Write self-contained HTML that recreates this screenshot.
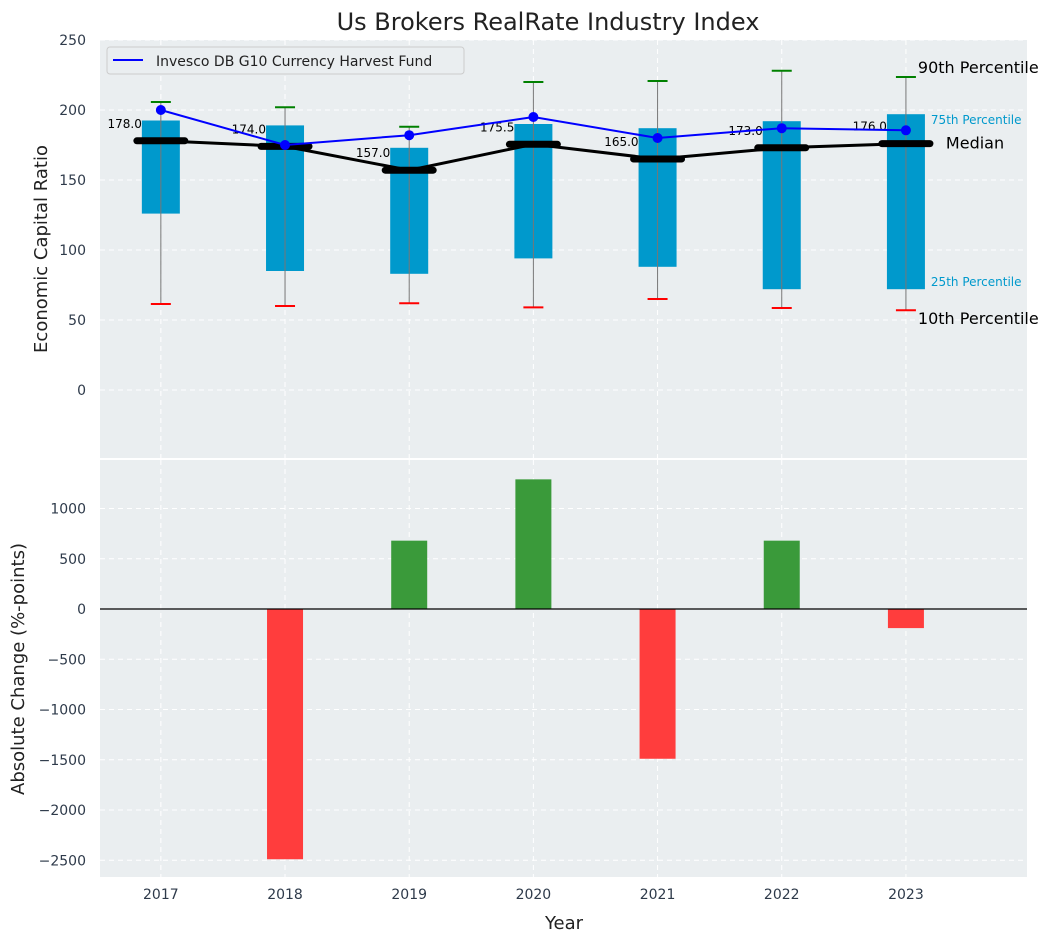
<!DOCTYPE html>
<html><head><meta charset="utf-8"><style>
body{margin:0;background:#fff;}
svg{font-family:"DejaVu Sans","Liberation Sans",sans-serif;}
</style></head><body>
<svg id="c" width="1053" height="942" xmlns="http://www.w3.org/2000/svg"></svg>
<script>
const years=[2017,2018,2019,2020,2021,2022,2023];
const p10=[61.4,60,62,59,65,58.6,57];
const p25=[126,85,83,94,88,72,72];
const medians=[178,174,157,175.5,165,173,176];
const p75=[192.5,189,173,190,187,192,197];
const p90=[205.7,202,188,220,220.7,228,223.6];
const fund=[200,175,182,195,180,187,185.5];
const changes=[0,-2490,680,1290,-1490,680,-190];
const topTicks=[0,50,100,150,200,250];
const botTicks=[-2500,-2000,-1500,-1000,-500,0,500,1000];

const NS="http://www.w3.org/2000/svg";
const svg=document.getElementById('c');
function el(tag,attrs,parent){const e=document.createElementNS(NS,tag);for(const k in attrs)e.setAttribute(k,attrs[k]);(parent||svg).appendChild(e);return e;}
const L=100,R=1027;
const x=v=>L+(v-2016.51)/(2023.975-2016.51)*(R-L);
const yT=v=>390-v*1.4;
const yB=v=>609-v*0.1005;

let t=el('text',{x:548,y:30,'font-size':24,'text-anchor':'middle',fill:'#222'});
t.textContent='Us Brokers RealRate Industry Index';

let p=el('rect',{x:L,y:40,width:R-L,height:418,fill:'#eaeef0'});

p=el('rect',{x:L,y:460,width:R-L,height:417,fill:'#eaeef0'});


years.forEach(yr=>{
  el('line',{x1:x(yr),x2:x(yr),y1:40,y2:458,stroke:'#fff','stroke-dasharray':'5,4','stroke-width':1});
  el('line',{x1:x(yr),x2:x(yr),y1:460,y2:877,stroke:'#fff','stroke-dasharray':'5,4','stroke-width':1});
  const tx=el('text',{x:x(yr),y:899,'font-size':14,'text-anchor':'middle',fill:'#2e3a4a'});
  tx.textContent=yr;
});
topTicks.forEach(v=>{
  el('line',{x1:L,x2:R,y1:yT(v),y2:yT(v),stroke:'#fff','stroke-dasharray':'5,4'});
  const tx=el('text',{x:86,y:yT(v)+5,'font-size':14,'text-anchor':'end',fill:'#2e3a4a'});
  tx.textContent=v;
});
botTicks.forEach(v=>{
  el('line',{x1:L,x2:R,y1:yB(v),y2:yB(v),stroke:'#fff','stroke-dasharray':'5,4'});
  const tx=el('text',{x:86,y:yB(v)+5,'font-size':14,'text-anchor':'end',fill:'#2e3a4a'});
  tx.textContent=v<0?'\u2212'+(-v):v;
});

years.forEach((yr,i)=>{
  const cx=x(yr),bw=38;
  const b=el('rect',{x:cx-bw/2,y:yT(p75[i]),width:bw,height:yT(p25[i])-yT(p75[i]),fill:'#0099cc'});
  
  el('line',{x1:cx,x2:cx,y1:yT(p10[i]),y2:yT(p90[i]),stroke:'#777','stroke-width':1});
  el('line',{x1:cx-10,x2:cx+10,y1:yT(p90[i]),y2:yT(p90[i]),stroke:'green','stroke-width':2});
  el('line',{x1:cx-10,x2:cx+10,y1:yT(p10[i]),y2:yT(p10[i]),stroke:'red','stroke-width':2});
});
let pl=el('polyline',{points:years.map((yr,i)=>x(yr)+','+yT(medians[i])).join(' '),fill:'none',stroke:'#000','stroke-width':3});

years.forEach((yr,i)=>{
  const m=el('line',{x1:x(yr)-24,x2:x(yr)+24,y1:yT(medians[i]),y2:yT(medians[i]),stroke:'#000','stroke-width':7,'stroke-linecap':'round'});
  
  const tx=el('text',{x:x(yr)-19,y:yT(medians[i])-13,'font-size':12,'text-anchor':'end',fill:'#000'});
  tx.textContent=medians[i].toFixed(1);
});
pl=el('polyline',{points:years.map((yr,i)=>x(yr)+','+yT(fund[i])).join(' '),fill:'none',stroke:'blue','stroke-width':2});

years.forEach((yr,i)=>{
  const c=el('circle',{cx:x(yr),cy:yT(fund[i]),r:5,fill:'blue'});
  
});
const ax=x(2023);
[['90th Percentile',ax+12,yT(p90[6])-4,16,'#000'],['75th Percentile',ax+25,yT(p75[6])+10,12,'#0099cc'],['Median',ax+40,yT(medians[6])+5,16,'#000'],['25th Percentile',ax+25,yT(p25[6])-3,12,'#0099cc'],['10th Percentile',ax+12,yT(p10[6])+14,16,'#000']].forEach(a=>{
  const tx=el('text',{x:a[1],y:a[2],'font-size':a[3],fill:a[4]});
  tx.textContent=a[0];
});
const lg=el('g',{});

el('rect',{x:107,y:47,width:357,height:27,rx:3,fill:'#eaeef0',stroke:'#ccc'},lg);
el('line',{x1:113,x2:143,y1:60,y2:60,stroke:'blue','stroke-width':2},lg);
const lt=el('text',{x:156,y:66,'font-size':14,fill:'#222'},lg);lt.textContent='Invesco DB G10 Currency Harvest Fund';

years.forEach((yr,i)=>{
  const v=changes[i];if(v===0)return;
  const b=el('rect',{x:x(yr)-18,y:Math.min(yB(v),yB(0)),width:36,height:Math.abs(yB(v)-yB(0)),fill:v>=0?'#3a9a3a':'#ff3d3d'});
  
});
el('line',{x1:L,x2:R,y1:yB(0),y2:yB(0),stroke:'#000','stroke-width':1.2});

t=el('text',{x:47,y:249,'font-size':18,'text-anchor':'middle',fill:'#222',transform:'rotate(-90 47 249)'});
t.textContent='Economic Capital Ratio';
t=el('text',{x:24,y:669,'font-size':18,'text-anchor':'middle',fill:'#222',transform:'rotate(-90 24 669)'});
t.textContent='Absolute Change (%-points)';
t=el('text',{x:564,y:929,'font-size':18,'text-anchor':'middle',fill:'#222'});
t.textContent='Year';
</script>
</body></html>
